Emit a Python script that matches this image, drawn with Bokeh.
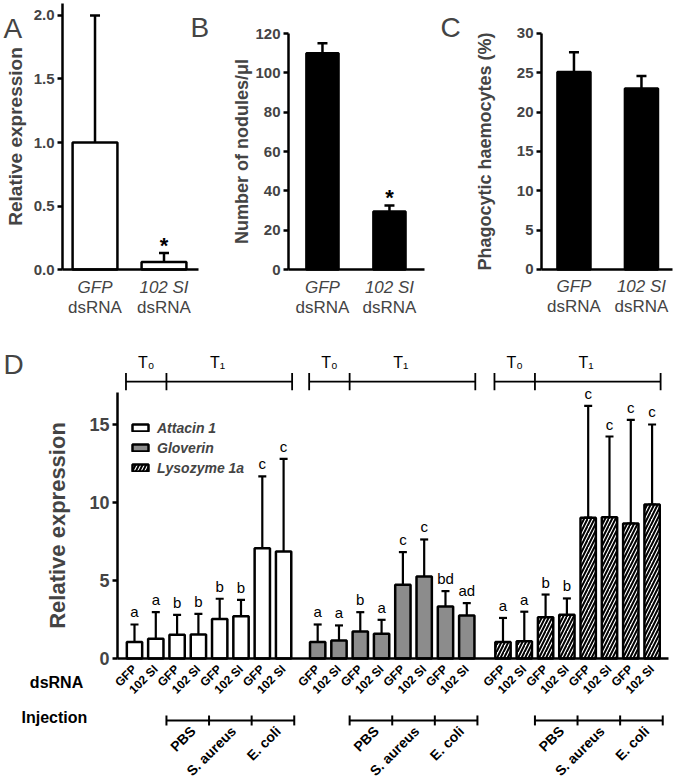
from math import pi
from bokeh.plotting import figure
from bokeh.models import (ColumnDataSource, Whisker, TeeHead, FixedTicker, LinearAxis,
                          Range1d, Label, Legend, LegendItem, NumeralTickFormatter)
from bokeh.layouts import column, row
from bokeh.embed import file_html
from bokeh.resources import INLINE
from bokeh.core.properties import value

FONT = "Liberation Sans"

# ---------------- data ----------------
top_cats = ["GFP", "102 SI"]
top_cats2 = ["dsRNA", "dsRNA"]

a_mean = [1.00, 0.06]
a_upper = [2.00, 0.13]
a_lower = [0.50, 0.01]
a_sig = ["", "*"]
a_ticks = [0.0, 0.5, 1.0, 1.5, 2.0]

b_mean = [110.0, 29.5]
b_upper = [115.0, 32.5]
b_sig = ["", "*"]
b_ticks = [0, 20, 40, 60, 80, 100, 120]

c_mean = [25.1, 23.0]
c_upper = [27.6, 24.6]
c_ticks = [0, 5, 10, 15, 20, 25, 30]

genes = ["Attacin 1", "Gloverin", "Lysozyme 1a"]
dsrna = ["GFP", "102 SI", "GFP", "102 SI", "GFP", "102 SI", "GFP", "102 SI"]
injections = ["PBS", "S. aureus", "E. coli"]
times = ["T\u2080", "T\u2081"]

att_mean = [1.05, 1.26, 1.52, 1.54, 2.54, 2.71, 7.07, 6.86]
att_up = [2.18, 2.97, 2.80, 2.86, 3.83, 3.76, 11.67, 12.80]
att_lo = [0.30, 0.51, 0.34, 0.40, 1.54, 1.58, 3.72, 3.50]
att_let = ["a", "a", "b", "b", "b", "b", "c", "c"]

glo_mean = [1.05, 1.15, 1.73, 1.58, 4.72, 5.26, 3.33, 2.76]
glo_up = [2.18, 2.12, 2.97, 2.48, 6.82, 7.63, 4.32, 3.55]
glo_lo = [0.30, 0.40, 0.40, 0.83, 3.68, 4.79, 2.27, 1.80]
glo_let = ["a", "a", "b", "a", "c", "c", "bd", "ad"]

lys_mean = [1.05, 1.10, 2.65, 2.80, 9.03, 9.05, 8.65, 9.87]
lys_up = [2.60, 3.00, 4.10, 3.85, 16.20, 14.23, 15.30, 15.00]
lys_lo = [0.05, 0.05, 1.20, 1.75, 9.03, 9.05, 8.65, 9.87]
lys_let = ["a", "a", "b", "b", "c", "c", "c", "c"]

d_ticks = [0, 5, 10, 15]
group_offsets = [0.0, 8.6, 17.3]

LW = 2.5


def style_fig(p):
    p.grid.visible = False
    p.outline_line_color = None
    p.background_fill_color = "white"
    p.border_fill_color = "white"


def top_panel(width, xr, yr, xbounds, ybounds, ticks, ylabel, ylabel_size, ystandoff,
              fmt=None):
    p = figure(width=width, height=323, x_range=Range1d(*xr), y_range=Range1d(*yr),
               output_backend="svg", toolbar_location=None, min_border=0,
               x_axis_location=None, y_axis_location=None)
    style_fig(p)
    ya = LinearAxis(fixed_location=xbounds[0], bounds=ybounds, ticker=FixedTicker(ticks=ticks),
                    axis_line_width=LW, major_tick_line_width=LW, major_tick_out=5,
                    major_tick_in=0, minor_tick_line_color=None,
                    major_label_text_font=FONT, major_label_text_font_style="bold",
                    major_label_text_font_size="15px", major_label_standoff=3,
                    axis_label=ylabel, axis_label_text_font=FONT,
                    axis_label_text_font_style="bold", axis_label_text_font_size=ylabel_size,
                    axis_label_standoff=ystandoff)
    if fmt:
        ya.formatter = NumeralTickFormatter(format=fmt)
    p.add_layout(ya, "left")

    xa = LinearAxis(fixed_location=0, bounds=xbounds, ticker=FixedTicker(ticks=[1, 2]),
                    major_label_overrides={1: top_cats[0], 2: top_cats[1]},
                    axis_line_width=LW, major_tick_line_color=None,
                    minor_tick_line_color=None, major_tick_out=0, major_tick_in=0,
                    major_label_standoff=8, major_label_text_font=FONT,
                    major_label_text_font_style="italic", major_label_text_font_size="17px")
    p.add_layout(xa, "below")
    x2 = LinearAxis(fixed_location=0, ticker=FixedTicker(ticks=[1, 2]),
                    major_label_overrides={1: top_cats2[0], 2: top_cats2[1]},
                    axis_line_color=None, major_tick_line_color=None,
                    minor_tick_line_color=None, major_tick_out=0, major_tick_in=0,
                    major_label_standoff=28, major_label_text_font=FONT,
                    major_label_text_font_size="17px")
    p.add_layout(x2, "below")
    return p


def letter(p, x, y, t):
    p.add_layout(Label(x=x, y=y, x_units="screen", y_units="screen", text=t,
                       text_font=FONT, text_font_size="28px",
                       text_baseline="alphabetic"))


# ---------------- Panel A ----------------
pA = top_panel(218, (-0.370, 2.790), (-0.425, 2.118), (0.529, 2.50), (0, 2.094),
               a_ticks, "Relative expression", "19px", 5, fmt="0.0")
pA.vbar(x=[1, 2], top=a_mean, width=0.65, fill_color="white", line_color="black",
        line_width=LW)
pA.add_layout(Whisker(source=ColumnDataSource(dict(x=[1, 2], up=a_upper, lo=a_lower)),
                      base="x", upper="up", lower="lo", line_width=LW,
                      upper_head=TeeHead(size=10, line_width=LW),
                      lower_head=TeeHead(size=10, line_width=LW)))
pA.text(x=[1, 2], y=a_upper, text=a_sig, text_align="center", text_baseline="middle",
        y_offset=-8, text_font=value(FONT), text_font_style="bold", text_font_size="22px")
letter(pA, 3, 295, "A")
letter(pA, 190, 296, "B")

# ---------------- Panel B ----------------
pB = top_panel(247, (-0.552, 3.135), (-27.46, 136.8), (0.493, 2.523), (0, 120),
               b_ticks, "Number of nodules/\u03bcl", "18px", 0)
pB.vbar(x=[1, 2], top=b_mean, width=0.48, fill_color="black", line_color="black",
        line_width=LW)
pB.add_layout(Whisker(source=ColumnDataSource(dict(x=[1, 2], up=b_upper, lo=b_mean)),
                      base="x", upper="up", lower="lo", line_width=LW,
                      upper_head=TeeHead(size=10, line_width=LW), lower_head=None))
pB.text(x=[1, 2], y=b_upper, text=b_sig, text_align="center", text_baseline="middle",
        y_offset=-8, text_font=value(FONT), text_font_style="bold", text_font_size="22px")
letter(pB, 222, 296, "C")

# ---------------- Panel C ----------------
pC = top_panel(212, (-0.607, 2.534), (-6.864, 34.19), (0.519, 2.46), (0, 30),
               c_ticks, "Phagocytic haemocytes (%)", "18px", 19)
pC.vbar(x=[1, 2], top=c_mean, width=0.49, fill_color="black", line_color="black",
        line_width=LW)
pC.add_layout(Whisker(source=ColumnDataSource(dict(x=[1, 2], up=c_upper, lo=c_mean)),
                      base="x", upper="up", lower="lo", line_width=LW,
                      upper_head=TeeHead(size=10, line_width=LW), lower_head=None))

# ---------------- Panel D ----------------
pD = figure(width=677, height=456, x_range=Range1d(-6.291, 25.493),
            y_range=Range1d(-7.756, 21.474), output_backend="svg",
            toolbar_location=None, min_border=0, x_axis_location=None,
            y_axis_location=None)
style_fig(pD)

yax = LinearAxis(fixed_location=-0.8, bounds=(0, 17.05), ticker=FixedTicker(ticks=d_ticks),
                 axis_line_width=LW, major_tick_line_width=LW, major_tick_out=5,
                 major_tick_in=0, minor_tick_line_color=None,
                 major_label_text_font=FONT, major_label_text_font_style="bold",
                 major_label_text_font_size="18px", major_label_standoff=3,
                 axis_label="Relative expression", axis_label_text_font=FONT,
                 axis_label_text_font_style="bold", axis_label_text_font_size="22px",
                 axis_label_standoff=16)
pD.add_layout(yax, "left")
xax = LinearAxis(fixed_location=0, bounds=(-0.8, 25.07), ticker=FixedTicker(ticks=[]),
                 axis_line_width=LW, major_tick_line_color=None, minor_tick_line_color=None)
pD.add_layout(xax, "below")

series = [
    (att_mean, att_up, att_lo, att_let, dict(fill_color="white")),
    (glo_mean, glo_up, glo_lo, glo_let, dict(fill_color="#8c8c8c")),
    (lys_mean, lys_up, lys_lo, lys_let, dict(fill_color="white", hatch_pattern="/",
                                              hatch_color="black", hatch_scale=7,
                                              hatch_weight=2)),
]

renderers = []
all_x = []
for off, (mean, up, lo, let, style) in zip(group_offsets, series):
    xs = [off + i for i in range(len(mean))]
    all_x += xs
    r = pD.vbar(x=xs, top=mean, width=0.72, line_color="black", line_width=LW, **style)
    renderers.append(r)
    pD.add_layout(Whisker(source=ColumnDataSource(dict(x=xs, up=up, lo=lo)),
                          base="x", upper="up", lower="lo", line_width=2.2,
                          upper_head=TeeHead(size=8, line_width=2.2),
                          lower_head=TeeHead(size=8, line_width=2.2)))
    pD.text(x=xs, y=up, text=let, text_align="center", text_baseline="bottom",
            y_offset=-4, text_font=value(FONT), text_font_size="15px")

    # T0 / T1 brackets above
    tb = [off - 0.4, off + 1.5, off + 7.4]
    pD.segment(x0=[tb[0]], y0=[17.75], x1=[tb[2]], y1=[17.75], line_width=1.8,
               line_color="black")
    pD.segment(x0=tb, y0=[17.2] * 3, x1=tb, y1=[18.3] * 3, line_width=1.8,
               line_color="black")
    pD.text(x=[off + 0.55, off + 3.9], y=[18.97, 18.97], text=times, text_align="center",
            text_baseline="middle", text_font=value(FONT), text_font_size="16px")

    # Injection brackets below
    ib = [off + 1.5, off + 3.5, off + 5.5, off + 7.5]
    pD.segment(x0=[ib[0]], y0=[-3.97], x1=[ib[3]], y1=[-3.97], line_width=2,
               line_color="black")
    pD.segment(x0=ib, y0=[-3.65] * 4, x1=ib, y1=[-4.29] * 4, line_width=2,
               line_color="black")
    pD.text(x=[off + 2.75, off + 4.65, off + 6.75], y=[-4.5] * 3, text=injections,
            angle=pi / 4, text_align="right", text_baseline="middle",
            text_font=value(FONT), text_font_style="bold", text_font_size="14px")

# rotated dsRNA labels
pD.text(x=all_x, y=[-0.55] * len(all_x), text=dsrna * 3, angle=pi / 4,
        text_align="right", text_baseline="middle", text_font=value(FONT),
        text_font_style="bold", text_font_size="12px")

pD.text(x=[-3.66, -3.76], y=[-1.54, -3.78], text=["dsRNA", "Injection"],
        text_align="center", text_baseline="middle", text_font=value(FONT),
        text_font_style="bold", text_font_size="16px")

legend = Legend(items=[LegendItem(label=g, renderers=[r]) for g, r in zip(genes, renderers)],
                location=(130, 303), glyph_width=20, glyph_height=9, label_height=17,
                label_standoff=7, spacing=3, padding=0, margin=0,
                border_line_alpha=0, background_fill_alpha=0,
                label_text_font=FONT, label_text_font_style="bold italic",
                label_text_font_size="14px")
pD.add_layout(legend)

letter(pD, 3, 415, "D")

layout = column(row(pA, pB, pC), pD)
open("out.html", "w").write(file_html(layout, INLINE))
